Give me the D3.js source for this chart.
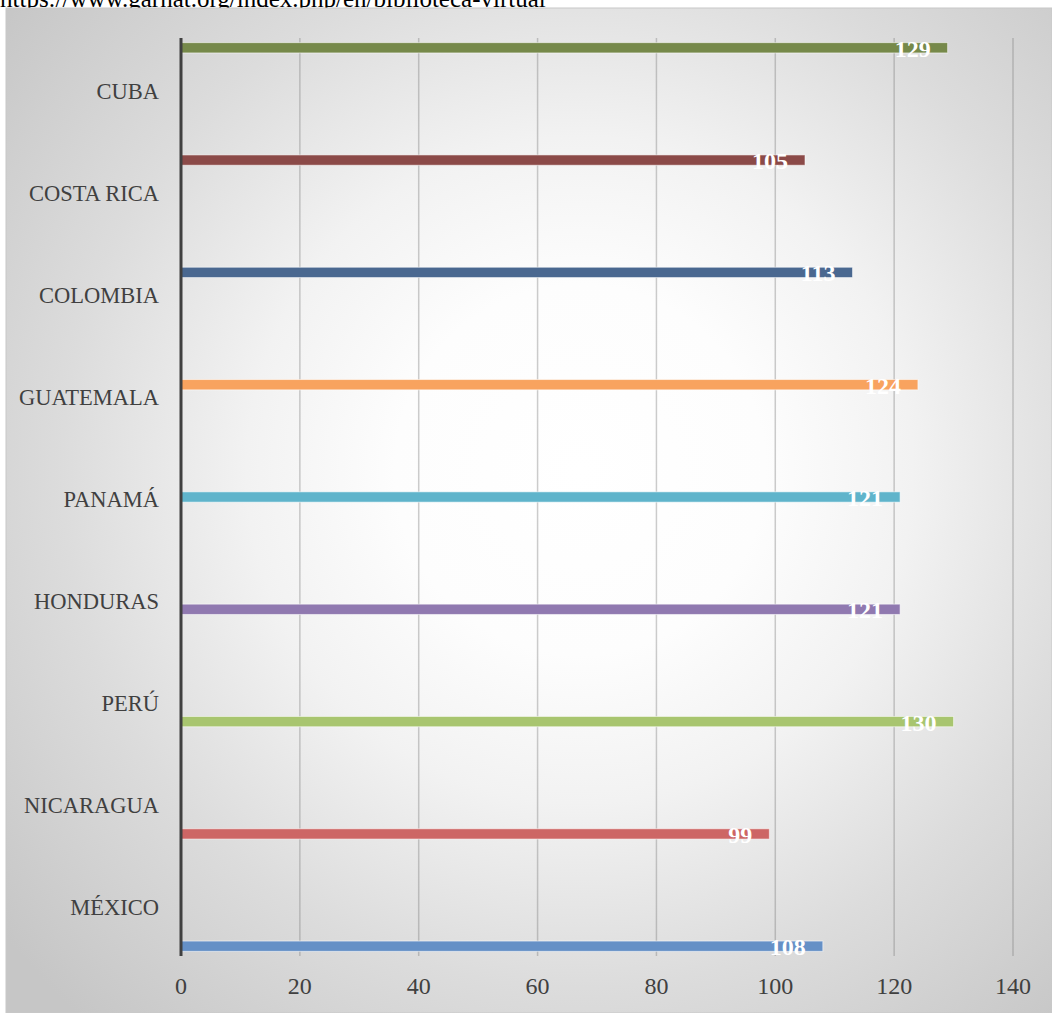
<!DOCTYPE html>
<html>
<head>
<meta charset="utf-8">
<script src="https://cdn.jsdelivr.net/npm/d3@7"></script>
<style>
  html, body { margin: 0; padding: 0; background: #fff; }
  svg { display: block; }
</style>
</head>
<body>
<svg id="chart" width="1052" height="1013"></svg>
<script>
// ---- Data ----
const categories = ["MÉXICO", "NICARAGUA", "PERÚ", "HONDURAS", "PANAMÁ", "GUATEMALA", "COLOMBIA", "COSTA RICA", "CUBA"];
const values = [108, 99, 130, 121, 121, 124, 113, 105, 129];
const seriesColors = ["#6590c6", "#cd6665", "#a8c56f", "#9079b0", "#5fb4cb", "#f8a35f", "#4a6890", "#8b4a48", "#76894a"];
const xTicks = [0, 20, 40, 60, 80, 100, 120, 140];
const sourceText = "https://www.garnat.org/index.php/en/biblioteca-virtual";

// ---- Layout ----
const W = 1052, H = 1013;
const plot = { left: 181, right: 1013, top: 38, bottom: 956 };
const svg = d3.select("#chart");
const serif = "'Liberation Serif', 'DejaVu Serif', serif";

// source text (partly hidden by the chart box, as in the reference)
svg.append("text").attr("x", 0).attr("y", 7)
  .attr("font-family", serif).attr("font-size", 25).attr("fill", "#000")
  .text(sourceText);

// background gradient
const defs = svg.append("defs");
const grad = defs.append("radialGradient").attr("id", "bg")
  .attr("gradientUnits", "userSpaceOnUse")
  .attr("cx", 580).attr("cy", 470).attr("r", 740);
[[0, "#ffffff"], [0.25, "#fdfdfd"], [0.45, "#f2f2f2"], [0.7, "#dcdcdc"], [1, "#c6c6c6"]]
  .forEach(([o, c]) => grad.append("stop").attr("offset", o).attr("stop-color", c));

svg.append("rect").attr("x", 6).attr("y", 8).attr("width", W - 6).attr("height", H - 8)
  .attr("fill", "url(#bg)").attr("stroke", "#c8c8c8").attr("stroke-width", 1);

// scales
const x = d3.scaleLinear().domain([0, 140]).range([plot.left, plot.right]);
const y = d3.scaleBand().domain(categories).range([plot.bottom, plot.top]).padding(0);
const seriesIdx = d3.range(categories.length);
const ys = d3.scaleBand().domain(seriesIdx).range([y.bandwidth(), 0]).paddingInner(0).paddingOuter(0.45);

// gridlines
const grid = svg.append("g");
grid.selectAll("line").data(xTicks.filter(t => t > 0)).join("line")
  .attr("x1", d => x(d)).attr("x2", d => x(d))
  .attr("y1", plot.top).attr("y2", plot.bottom)
  .attr("stroke", "#7a7a7a").attr("stroke-opacity", 0.38).attr("stroke-width", 1.5);

// bars: each series i has its value in category i
const bars = svg.append("g");
bars.selectAll("rect").data(values).join("rect")
  .attr("x", x(0))
  .attr("y", (d, i) => y(categories[i]) + ys(i))
  .attr("width", d => x(d) - x(0))
  .attr("height", ys.bandwidth())
  .attr("fill", (d, i) => seriesColors[i])
  .attr("stroke", "rgba(255,255,255,0.55)").attr("stroke-width", 1);

// data labels
svg.append("g").selectAll("text").data(values).join("text")
  .attr("x", d => x(d) - 17)
  .attr("y", (d, i) => y(categories[i]) + ys(i) + ys.bandwidth() / 2 + 1)
  .attr("text-anchor", "end").attr("dominant-baseline", "central")
  .attr("font-family", serif).attr("font-weight", "bold").attr("font-size", 24)
  .attr("fill", "#fff")
  .text(d => d);

// y axis line
svg.append("line").attr("x1", x(0)).attr("x2", x(0))
  .attr("y1", plot.top).attr("y2", plot.bottom)
  .attr("stroke", "#404040").attr("stroke-width", 3);

// category labels
svg.append("g").selectAll("text").data(categories).join("text")
  .attr("x", 159)
  .attr("y", d => y(d) + y.bandwidth() / 2 + 2)
  .attr("text-anchor", "end").attr("dominant-baseline", "central")
  .attr("font-family", serif).attr("font-size", 22.5).attr("fill", "#404040")
  .text(d => d);

// x tick labels
svg.append("g").selectAll("text").data(xTicks).join("text")
  .attr("x", d => x(d))
  .attr("y", 986)
  .attr("text-anchor", "middle").attr("dominant-baseline", "central")
  .attr("font-family", serif).attr("font-size", 24).attr("fill", "#404040")
  .text(d => d);
</script>
</body>
</html>
